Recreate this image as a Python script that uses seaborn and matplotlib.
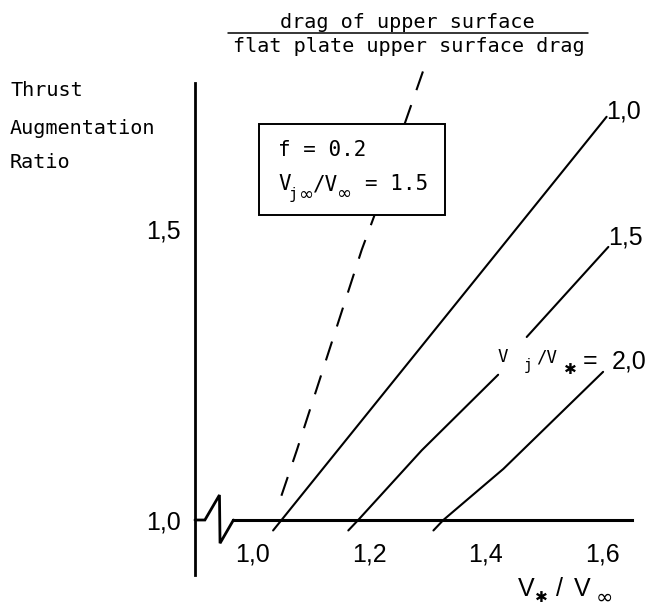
import matplotlib
matplotlib.use("Agg")
import numpy as np
import pandas as pd
import seaborn as sns
import matplotlib.pyplot as plt
from matplotlib import font_manager
from matplotlib.patches import Rectangle
from matplotlib.lines import Line2D

# ---------------- data ----------------
curve_labels = ["1,0", "1,5", "2,0"]

x_vj10 = [1.035, 1.607]
y_vj10 = [0.982, 1.694]

x_vj15_low = [1.164, 1.181, 1.290, 1.421]
y_vj15_low = [0.982, 1.000, 1.120, 1.250]
x_vj15_high = [1.470, 1.610]
y_vj15_high = [1.315, 1.470]

x_vj20 = [1.310, 1.327, 1.430, 1.601]
y_vj20 = [0.982, 1.000, 1.088, 1.255]

x_drag = [1.049, 1.076, 1.187, 1.208, 1.260, 1.292]
y_drag = [1.041, 1.121, 1.465, 1.522, 1.680, 1.772]

x_ticks = [1.0, 1.1, 1.2, 1.3, 1.4, 1.5, 1.6]
x_ticklabels = ["1,0", "", "1,2", "", "1,4", "", "1,6"]
y_ticks = [1.0, 1.1, 1.2, 1.3, 1.4, 1.5, 1.6, 1.7]
y_ticklabels = ["1,0", "", "", "", "", "1,5", "", ""]

# ---------------- style ----------------
sns.set_theme(style="white")
names = {f.name for f in font_manager.fontManager.ttflist}
SANS = "Liberation Sans Narrow" if "Liberation Sans Narrow" in names else "Liberation Sans"
MONO = "DejaVu Sans Mono"
plt.rcParams["font.family"] = [SANS, "DejaVu Sans"]
for k in ["text.color", "axes.labelcolor", "xtick.color", "ytick.color", "axes.edgecolor"]:
    plt.rcParams[k] = "black"

W, H = 654, 610
fig = plt.figure(figsize=(W / 100, H / 100), dpi=100)
ax = fig.add_axes([0, 0, 1, 1])
ax.set_facecolor("white")
ax.set_xlim(0.5666, 1.6883)
ax.set_ylim(0.8451, 1.895)

# ---------------- curves ----------------
rows = []
for seg, (xs, ys) in enumerate([(x_vj10, y_vj10), (x_vj15_low, y_vj15_low),
                                (x_vj15_high, y_vj15_high), (x_vj20, y_vj20)]):
    for xv, yv in zip(xs, ys):
        rows.append({"x": xv, "y": yv, "seg": seg})
df_solid = pd.DataFrame(rows)
sns.lineplot(data=df_solid, x="x", y="y", units="seg", estimator=None, sort=False,
             color="black", lw=1.5, legend=False, ax=ax)

# dashed curve drawn from its top end so the dash pattern starts there
df_drag = pd.DataFrame({"x": x_drag, "y": y_drag}).iloc[::-1]
sns.lineplot(data=df_drag, x="x", y="y", sort=False, color="black", lw=1.5,
             linestyle=(0, (9.5, 7.6)), legend=False, ax=ax)

# ---------------- axes ----------------
for s in ["top", "right"]:
    ax.spines[s].set_visible(False)
ax.spines["left"].set_position(("data", 0.901))
ax.spines["left"].set_bounds(0.905, 1.752)
ax.spines["left"].set_linewidth(2.0)
ax.spines["bottom"].set_position(("data", 1.0))
ax.spines["bottom"].set_bounds(0.967, 1.65)
ax.spines["bottom"].set_linewidth(2.2)

ax.set_xticks(x_ticks)
ax.set_xticklabels(x_ticklabels)
ax.set_yticks(y_ticks)
ax.set_yticklabels(y_ticklabels)
ax.tick_params(axis="x", direction="out", length=6, width=1.5, pad=10, labelsize=18)
ax.tick_params(axis="y", direction="out", length=8.5, width=1.3, pad=2, labelsize=18)
ax.set_xlabel("")
ax.set_ylabel("")
ax.grid(False)

# axis break zig-zag
ax.plot([0.901, 0.918, 0.943, 0.944, 0.967], [1.0, 1.0, 1.043, 0.960, 1.0],
        color="black", lw=2.0, solid_joinstyle="miter", clip_on=False)


def T(xp, yp, s, **kw):
    return ax.text(xp / W, 1 - yp / H, s, transform=fig.transFigure, **kw)


# ---------------- texts ----------------
T(407.5, 22, "drag of upper surface", family=MONO, size=14.5, ha="center", va="center")
ax.add_line(Line2D([228 / W, 588 / W], [1 - 33.3 / H] * 2, transform=fig.transFigure,
                   color="black", lw=1.1))
T(408.5, 47, "flat plate upper surface drag", family=MONO, size=14.5, ha="center", va="center")

T(11, 90, "Thrust", family=MONO, size=14.5, ha="left", va="center")
T(10, 128, "Augmentation", family=MONO, size=14.5, ha="left", va="center")
T(10, 163, "Ratio", family=MONO, size=14.5, ha="left", va="center")

# parameter box
ax.add_patch(Rectangle((259 / W, 1 - 215 / H), (445 - 259) / W, (215 - 124) / H,
                       transform=fig.transFigure, facecolor="white", edgecolor="black",
                       lw=1.4, zorder=5))
T(278, 150, "f = 0.2", family=MONO, size=15, ha="left", va="center", zorder=6)
T(278, 190, "V", family=MONO, size=15, ha="left", va="baseline", zorder=6)
T(289, 199, "j", family=MONO, size=11, ha="left", va="baseline", zorder=6)
T(306, 195, "\u221e", family="DejaVu Sans", size=13, ha="center", va="center", zorder=6)
T(313, 190, "/V", family=MONO, size=15, ha="left", va="baseline", zorder=6)
T(344, 194, "\u221e", family="DejaVu Sans", size=13, ha="center", va="center", zorder=6)
T(365, 190, "= 1.5", family=MONO, size=15, ha="left", va="baseline", zorder=6)

# curve labels
T(624, 112, curve_labels[0], size=18, ha="center", va="center")
T(625, 237, curve_labels[1], size=18, ha="center", va="center")
T(629, 361, curve_labels[2], size=18, ha="center", va="center")
T(590, 361, "=", size=18, ha="center", va="center")
T(498, 362, "V", family=MONO, size=12.5, ha="left", va="baseline")
T(524, 370, "j", family=MONO, size=10.5, ha="left", va="baseline")
T(536, 362, "/V", family=MONO, size=12.5, ha="left", va="baseline")
T(570, 370, "\u2731", family="DejaVu Sans", size=11, ha="center", va="center", weight="bold")

# x axis label pieces
T(518, 596, "V", size=18, ha="left", va="baseline")
T(541, 598, "\u2731", family="DejaVu Sans", size=11, ha="center", va="center")
T(556, 596, "/", size=18, ha="left", va="baseline")
T(574, 596, "V", size=18, ha="left", va="baseline")
T(604, 604, "\u221e", family="DejaVu Sans", size=15, ha="center", va="baseline")

fig.savefig("out.png", dpi=100)
